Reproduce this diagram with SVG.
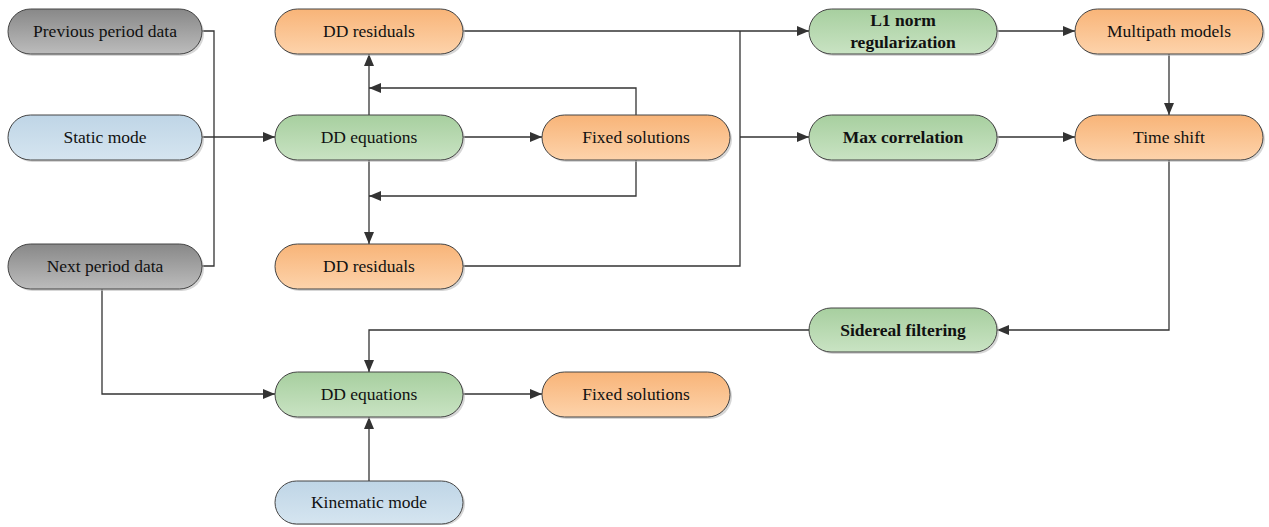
<svg xmlns="http://www.w3.org/2000/svg" width="1269" height="527" viewBox="0 0 1269 527" font-family="Liberation Serif, Times New Roman, DejaVu Serif, serif">
<defs>
<linearGradient id="gGray" x1="0" y1="0" x2="0" y2="1"><stop offset="0" stop-color="#888888"/><stop offset="1" stop-color="#bcbcbc"/></linearGradient>
<linearGradient id="gBlue" x1="0" y1="0" x2="0" y2="1"><stop offset="0" stop-color="#bfd5e6"/><stop offset="1" stop-color="#d5e5f0"/></linearGradient>
<linearGradient id="gGreen" x1="0" y1="0" x2="0" y2="1"><stop offset="0" stop-color="#a7cf9f"/><stop offset="1" stop-color="#c9e3c3"/></linearGradient>
<linearGradient id="gOrange" x1="0" y1="0" x2="0" y2="1"><stop offset="0" stop-color="#f8b478"/><stop offset="1" stop-color="#fdd3ab"/></linearGradient>
<marker id="arr" viewBox="0 0 12 10" refX="12" refY="5" markerWidth="12" markerHeight="10" markerUnits="userSpaceOnUse" orient="auto"><path d="M0,0 L12,5 L0,10 Z" fill="#333"/></marker>
</defs>
<style>
.sh{fill:#bbbbbb;opacity:0.6}
.box{stroke:#444;stroke-width:1}
.gray{fill:url(#gGray)}
.blue{fill:url(#gBlue)}
.green{fill:url(#gGreen)}
.orange{fill:url(#gOrange)}
text{font-family:'Liberation Serif','Times New Roman',serif;font-size:17.5px;fill:#111;text-anchor:middle}
.b{font-weight:bold}
.c{fill:none;stroke:#333;stroke-width:1.3}
.a{marker-end:url(#arr)}
</style>
<rect width="1269" height="527" fill="#fff"/>
<g id="connectors">
<path class="c" d="M202,31 H214 V266 H202"/>
<path class="c a" d="M202,137 H275"/>
<path class="c a" d="M369,115 V54"/>
<path class="c a" d="M636,115 V88 H369"/>
<path class="c a" d="M463,137 H542"/>
<path class="c a" d="M636,160 V196 H369"/>
<path class="c a" d="M369,160 V244"/>
<path class="c a" d="M463,31 H809"/>
<path class="c" d="M740,31 V266 H463"/>
<path class="c a" d="M740,137 H809"/>
<path class="c a" d="M997,31 H1075"/>
<path class="c a" d="M1169,54 V115"/>
<path class="c a" d="M997,137 H1075"/>
<path class="c a" d="M1169,160 V330 H997"/>
<path class="c a" d="M809,330 H369 V372"/>
<path class="c a" d="M102,289 V394 H275"/>
<path class="c a" d="M463,394 H542"/>
<path class="c a" d="M369,481 V417"/>
</g>
<g id="n-prev"><rect class="sh" x="10" y="11" width="194" height="45" rx="22.5"/><rect class="box gray" x="8" y="9" width="194" height="45" rx="22.5"/><text x="105" y="37">Previous period data</text></g>
<g id="n-static"><rect class="sh" x="10" y="117" width="194" height="45" rx="22.5"/><rect class="box blue" x="8" y="115" width="194" height="45" rx="22.5"/><text x="105" y="143">Static mode</text></g>
<g id="n-next"><rect class="sh" x="10" y="246" width="194" height="45" rx="22.5"/><rect class="box gray" x="8" y="244" width="194" height="45" rx="22.5"/><text x="105" y="272">Next period data</text></g>
<g id="n-res1"><rect class="sh" x="277" y="11" width="188" height="45" rx="22.5"/><rect class="box orange" x="275" y="9" width="188" height="45" rx="22.5"/><text x="369" y="37">DD residuals</text></g>
<g id="n-eq1"><rect class="sh" x="277" y="117" width="188" height="45" rx="22.5"/><rect class="box green" x="275" y="115" width="188" height="45" rx="22.5"/><text x="369" y="143">DD equations</text></g>
<g id="n-res2"><rect class="sh" x="277" y="246" width="188" height="45" rx="22.5"/><rect class="box orange" x="275" y="244" width="188" height="45" rx="22.5"/><text x="369" y="272">DD residuals</text></g>
<g id="n-fix1"><rect class="sh" x="544" y="117" width="188" height="45" rx="22.5"/><rect class="box orange" x="542" y="115" width="188" height="45" rx="22.5"/><text x="636" y="143">Fixed solutions</text></g>
<g id="n-l1"><rect class="sh" x="811" y="11" width="188" height="45" rx="22.5"/><rect class="box green" x="809" y="9" width="188" height="45" rx="22.5"/><text class="b" x="903" y="26">L1 norm</text><text class="b" x="903" y="48">regularization</text></g>
<g id="n-max"><rect class="sh" x="811" y="117" width="188" height="45" rx="22.5"/><rect class="box green" x="809" y="115" width="188" height="45" rx="22.5"/><text class="b" x="903" y="143">Max correlation</text></g>
<g id="n-multi"><rect class="sh" x="1077" y="11" width="188" height="45" rx="22.5"/><rect class="box orange" x="1075" y="9" width="188" height="45" rx="22.5"/><text x="1169" y="37">Multipath models</text></g>
<g id="n-shift"><rect class="sh" x="1077" y="117" width="188" height="45" rx="22.5"/><rect class="box orange" x="1075" y="115" width="188" height="45" rx="22.5"/><text x="1169" y="143">Time shift</text></g>
<g id="n-sid"><rect class="sh" x="811" y="310" width="188" height="44" rx="22"/><rect class="box green" x="809" y="308" width="188" height="44" rx="22"/><text class="b" x="903" y="336">Sidereal filtering</text></g>
<g id="n-eq2"><rect class="sh" x="277" y="374" width="188" height="45" rx="22.5"/><rect class="box green" x="275" y="372" width="188" height="45" rx="22.5"/><text x="369" y="400">DD equations</text></g>
<g id="n-fix2"><rect class="sh" x="544" y="374" width="188" height="45" rx="22.5"/><rect class="box orange" x="542" y="372" width="188" height="45" rx="22.5"/><text x="636" y="400">Fixed solutions</text></g>
<g id="n-kin"><rect class="sh" x="277" y="483" width="188" height="42" rx="21"/><rect class="box blue" x="275" y="481" width="188" height="43" rx="21.5"/><text x="369" y="508">Kinematic mode</text></g>
</svg>
